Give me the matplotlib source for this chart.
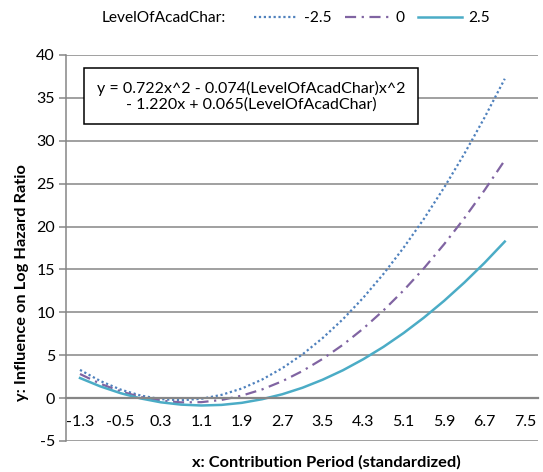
import matplotlib.pyplot as plt

plt.rcParams['font.family'] = ['Lato', 'DejaVu Sans']
plt.rcParams['axes.unicode_minus'] = False

# values
x_vals = [-1.3, -0.9, -0.5, -0.1, 0.3, 0.7, 1.1, 1.5, 1.9, 2.3, 2.7,
          3.1, 3.5, 3.9, 4.3, 4.7, 5.1, 5.5, 5.9, 6.3, 6.7, 7.1]
y_low = [3.29, 2.00, 1.00, 0.30, -0.12, -0.25, -0.08, 0.38, 1.12, 2.16, 3.49,
         5.10, 7.01, 9.20, 11.69, 14.47, 17.54, 20.89, 24.54, 28.48, 32.71, 37.23]
y_mid = [2.81, 1.68, 0.79, 0.13, -0.30, -0.50, -0.47, -0.21, 0.29, 1.01, 1.97,
         3.16, 4.58, 6.22, 8.10, 10.22, 12.56, 15.13, 17.94, 20.97, 24.24, 27.73]
y_high = [2.34, 1.37, 0.58, -0.04, -0.49, -0.76, -0.86, -0.79, -0.55, -0.13, 0.45,
          1.21, 2.15, 3.25, 4.53, 5.97, 7.59, 9.38, 11.34, 13.47, 15.77, 18.25]
levels = ['-2.5', '0', '2.5']

x_ticks = [-1.3, -0.5, 0.3, 1.1, 1.9, 2.7, 3.5, 4.3, 5.1, 5.9, 6.7, 7.5]
x_ticklabels = ['-1.3', '-0.5', '0.3', '1.1', '1.9', '2.7', '3.5', '4.3',
                '5.1', '5.9', '6.7', '7.5']
y_ticks = [-5, 0, 5, 10, 15, 20, 25, 30, 35, 40]

equation = "y = 0.722x^2 - 0.074(LevelOfAcadChar)x^2\n- 1.220x + 0.065(LevelOfAcadChar)"

W, H = 543, 472
fig = plt.figure(figsize=(W / 100, H / 100), dpi=100)
ax = fig.add_axes([66 / W, 1 - 441 / H, (538 - 66) / W, (441 - 55) / H])

grey = '#868686'
for yv in y_ticks:
    if yv != 0:
        ax.axhline(yv, color=grey, lw=1.1, zorder=0)

l1, = ax.plot(x_vals, y_low, color='#4F81BD', lw=1.6, linestyle=(0, (1, 1.2)),
              label=levels[0])
l2, = ax.plot(x_vals, y_mid, color='#8064A2', lw=1.6,
              linestyle=(0, (5, 2.5, 1, 2.5)), label=levels[1])
l3, = ax.plot(x_vals, y_high, color='#4BACC6', lw=1.8, label=levels[2])

ax.set_xlim(-1.577, 7.757)
ax.set_ylim(-5, 40)

ax.spines['top'].set_visible(False)
ax.spines['right'].set_visible(False)
ax.spines['bottom'].set_position(('data', 0))
ax.spines['bottom'].set_color(grey)
ax.spines['bottom'].set_linewidth(1.6)
ax.spines['left'].set_color(grey)
ax.spines['left'].set_linewidth(1.1)

ax.set_xticks(x_ticks)
ax.set_xticklabels(x_ticklabels)
ax.tick_params(axis='x', length=0, pad=12, labelsize=11.5)
ax.set_yticks(y_ticks)
ax.tick_params(axis='y', length=5, color=grey, width=1.1, pad=3, labelsize=11.5)

fig.text(251 / W, 1 - 96 / H, equation, ha='center', va='center',
         multialignment='center', fontsize=11.5, linespacing=1.15,
         bbox=dict(boxstyle='square,pad=0.8', fc='white', ec='black', lw=1.1))

fig.text(326 / W, 1 - 462 / H, 'x: Contribution Period (standardized)',
         ha='center', va='center', fontsize=11.8, fontweight='bold')
fig.text(22 / W, 1 - 283 / H, 'y: Influence on Log Hazard Ratio',
         ha='center', va='center', rotation=90, fontsize=11.8, fontweight='bold')

fig.text(164 / W, 1 - 18 / H, 'LevelOfAcadChar:', ha='center', va='center',
         fontsize=11.2)
fig.legend(handles=[l1, l2, l3], labels=levels, ncol=3, frameon=False,
           loc='center left', bbox_to_anchor=(254 / W, 1 - 18 / H),
           handlelength=2.8, handletextpad=0.4, columnspacing=0.9,
           fontsize=11.2, borderaxespad=0, borderpad=0)

fig.savefig('out.png', dpi=100)
